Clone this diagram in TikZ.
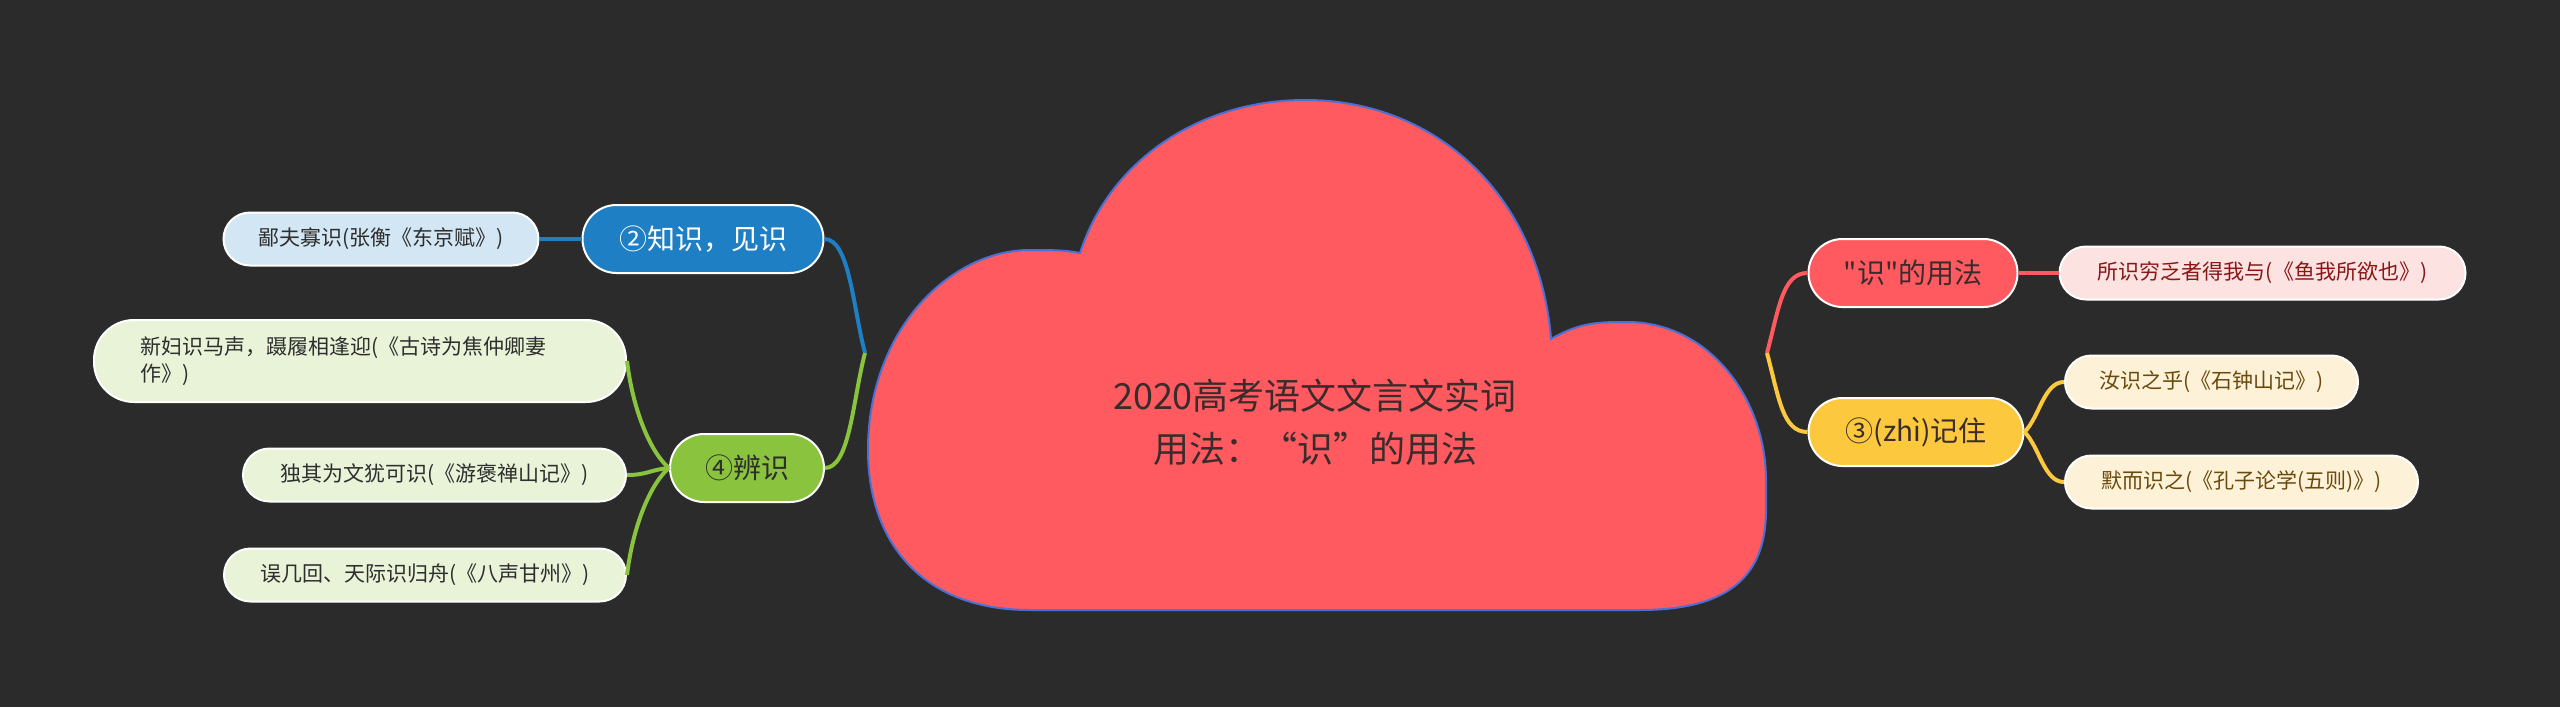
\documentclass[tikz,border=0pt]{standalone}
\usepackage{fontspec}
\setmainfont{Noto Sans CJK SC}
\newfontfamily\fwfont{Noto Sans CJK SC}[RawFeature=+fwid]
\newfontfamily\rawfont{Noto Sans CJK SC}[Ligatures=TeXOff]
\usetikzlibrary{positioning}
\definecolor{bgc}{HTML}{2B2B2B}
\definecolor{cloudc}{HTML}{FF5A5F}
\definecolor{cloudline}{HTML}{4A70D6}
\definecolor{titlec}{HTML}{3A2C2C}
\definecolor{bluec}{HTML}{1F7FC4}
\definecolor{bluelight}{HTML}{D3E6F3}
\definecolor{greenc}{HTML}{8AC33E}
\definecolor{greenlight}{HTML}{E8F3D8}
\definecolor{redc}{HTML}{FF5A5F}
\definecolor{pinklight}{HTML}{FDE2E2}
\definecolor{pinktext}{HTML}{8A1515}
\definecolor{yellowc}{HTML}{FCC83D}
\definecolor{yellowlight}{HTML}{FDF2D7}
\definecolor{yellowtext}{HTML}{6A4A0C}
\definecolor{darktext}{HTML}{2E2E2E}

\begin{document}
\begin{tikzpicture}[x=1pt,y=-1pt,
  branch/.style={draw=white,line width=2pt,rounded corners=34pt,minimum height=68pt,inner xsep=0pt,font=\fontsize{28}{34}\selectfont},
  leaf/.style={draw=white,line width=2pt,rounded corners=26.5pt,minimum height=53pt,inner xsep=0pt,font=\fontsize{21}{27}\selectfont},
  link/.style={line width=4pt}]
\fill[bgc] (0,0) rectangle (2560,707);
\useasboundingbox (0,0) rectangle (2560,707);

\filldraw[fill=cloudc,draw=cloudline,line width=2pt] (1080,253)
  .. controls (1110,160) and (1200,100) .. (1305,100)
  .. controls (1440,100) and (1540,200) .. (1551,339)
  .. controls (1580,322) and (1600,322) .. (1627,322)
  .. controls (1710,322) and (1766,400) .. (1766,480) -- (1766,510)
  .. controls (1766,575) and (1730,610) .. (1640,610) -- (1030,610)
  .. controls (920,610) and (868,540) .. (868,450)
  .. controls (868,330) and (950,250) .. (1030,250)
  .. controls (1050,250) and (1065,250) .. (1080,253) -- cycle;
\node[font=\fontsize{36}{53}\selectfont,align=center,text=titlec] (title) at (1315,422)
  {2020高考语文文言文实词\\用法：{\fwfont “}识{\fwfont ”}的用法};

\coordinate (jl) at (865,353);
\coordinate (jr) at (1767,353);

\node[branch,fill=bluec,text=white,minimum width=241pt] (zhishi) at (703,239) {②知识，见识};
\node[leaf,fill=bluelight,text=darktext,minimum width=315pt,left=42pt of zhishi] (bifu) {鄙夫寡识(张衡《东京赋》)};
\node[branch,fill=greenc,text=darktext,minimum width=154pt] (bianshi) at (747,468) {④辨识};
\node[leaf,fill=greenlight,text=darktext,rounded corners=40pt,minimum height=82pt,text width=440pt,inner xsep=46pt,align=left,anchor=east] (xinfu) at (627,361) {新妇识马声，蹑履相逢迎(《古诗为焦仲卿妻\\作》)};
\node[leaf,fill=greenlight,text=darktext,minimum width=383pt,anchor=east] (duqi) at (627,475) {独其为文犹可识(《游褒禅山记》)};
\node[leaf,fill=greenlight,text=darktext,minimum width=402pt,anchor=east] (wuji) at (627,575) {误几回、天际识归舟(《八声甘州》)};

\node[branch,fill=redc,text=titlec,minimum width=209pt] (yongfa) at (1913,273) {{\rawfont "识"}的用法};
\node[leaf,fill=pinklight,text=pinktext,minimum width=406pt,right=40pt of yongfa] (suoshi) {所识穷乏者得我与(《鱼我所欲也》)};
\node[branch,fill=yellowc,text=titlec,minimum width=215pt] (jizhu) at (1916,432) {③(zhì)记住};
\node[leaf,fill=yellowlight,text=yellowtext,minimum width=293pt,anchor=west] (rushi) at (2064,382) {汝识之乎(《石钟山记》)};
\node[leaf,fill=yellowlight,text=yellowtext,minimum width=353pt,anchor=west] (moer) at (2064,482) {默而识之(《孔子论学(五则)》)};

\draw[link,bluec] (zhishi.east) .. controls +(25,0) and +(-12,-45) .. (jl);
\draw[link,bluec] (bifu.east) -- (zhishi.west);
\draw[link,greenc] (jl) .. controls +(-12,45) and +(25,0) .. (bianshi.east);
\draw[link,greenc] (bianshi.west) .. controls +(-18,-15) and +(6,50) .. (xinfu.east);
\draw[link,greenc] (bianshi.west) .. controls +(-20,2) and +(20,0) .. (duqi.east);
\draw[link,greenc] (bianshi.west) .. controls +(-18,15) and +(6,-50) .. (wuji.east);
\draw[link,redc] (jr) .. controls +(12,-45) and +(-25,0) .. (yongfa.west);
\draw[link,redc] (yongfa.east) -- (suoshi.west);
\draw[link,yellowc] (jr) .. controls +(12,45) and +(-25,0) .. (jizhu.west);
\draw[link,yellowc] (jizhu.east) .. controls +(15,-15) and +(-20,0) .. (rushi.west);
\draw[link,yellowc] (jizhu.east) .. controls +(15,15) and +(-20,0) .. (moer.west);
\end{tikzpicture}
\end{document}
